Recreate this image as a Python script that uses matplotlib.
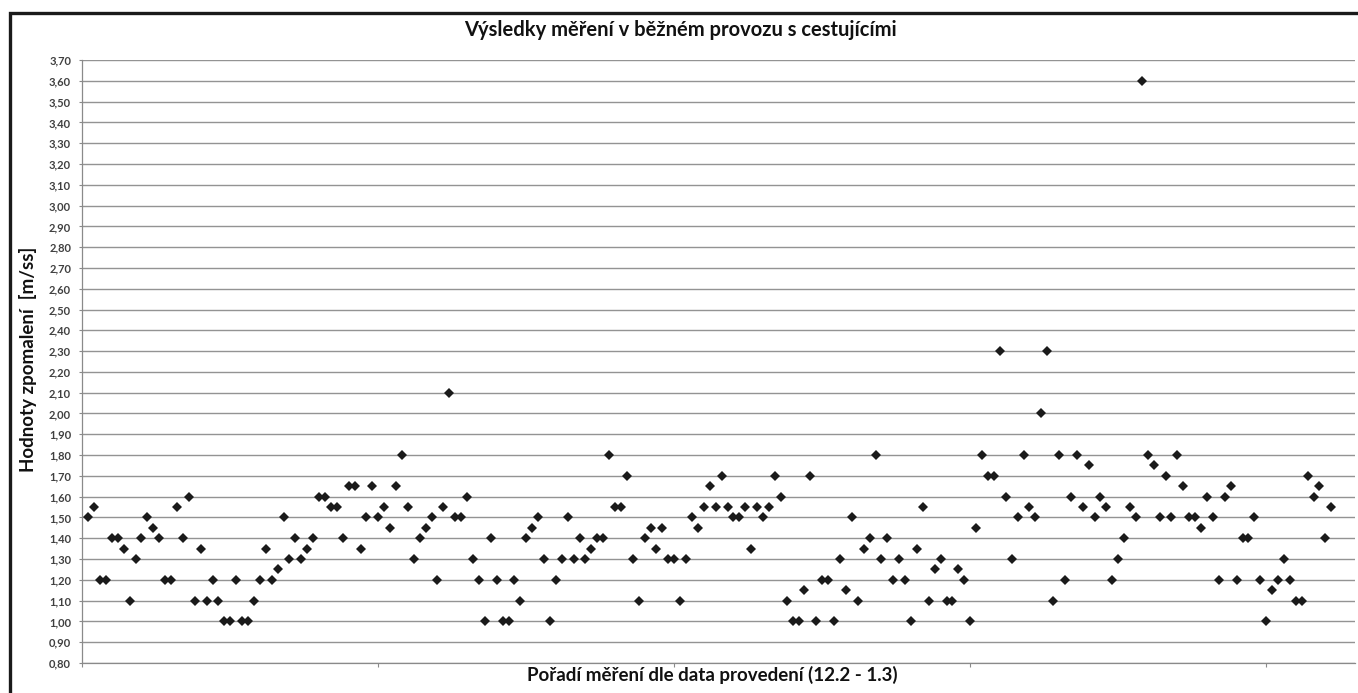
import matplotlib
matplotlib.use("Agg")
import matplotlib.pyplot as plt
from matplotlib.patches import Rectangle
from matplotlib.ticker import FuncFormatter, MultipleLocator

plt.rcParams['font.family'] = ['Lato', 'DejaVu Sans']

title = "Výsledky měření v běžném provozu s cestujícími"
xlabel = "Pořadí měření dle data provedení (12.2 - 1.3)"
ylabel = "Hodnoty zpomalení  [m/ss]"

values = [
    1.50, 1.55, 1.20, 1.20, 1.40, 1.40, 1.35, 1.10, 1.30, 1.40,
    1.50, 1.45, 1.40, 1.20, 1.20, 1.55, 1.40, 1.60, 1.10, 1.35,
    1.10, 1.20, 1.10, 1.00, 1.00, 1.20, 1.00, 1.00, 1.10, 1.20,
    1.35, 1.20, 1.25, 1.50, 1.30, 1.40, 1.30, 1.35, 1.40, 1.60,
    1.60, 1.55, 1.55, 1.40, 1.65, 1.65, 1.35, 1.50, 1.65, 1.50,
    1.55, 1.45,
    1.65, 1.80, 1.55, 1.30, 1.40, 1.45, 1.50, 1.20, 1.55, 2.10,
    1.50, 1.50, 1.60, 1.30, 1.20, 1.00, 1.40, 1.20, 1.00, 1.00,
    1.20, 1.10, 1.40, 1.45, 1.50, 1.30, 1.00, 1.20, 1.30, 1.50,
    1.30, 1.40, 1.30, 1.35, 1.40, 1.40, 1.80, 1.55, 1.55, 1.70,
    1.30, 1.10, 1.40, 1.45, 1.35, 1.45, 1.30, 1.30, 1.10, 1.30,
    1.50, 1.45,
    1.55, 1.65, 1.55, 1.70, 1.55, 1.50, 1.50, 1.55, 1.35, 1.55,
    1.50, 1.55, 1.70, 1.60, 1.10, 1.00, 1.00, 1.15, 1.70, 1.00,
    1.20, 1.20, 1.00, 1.30, 1.15, 1.50, 1.10, 1.35, 1.40, 1.80,
    1.30, 1.40, 1.20, 1.30, 1.20, 1.00, 1.35, 1.55, 1.10, 1.25,
    1.30, 1.10, 1.10, 1.25, 1.20, 1.00, 1.45, 1.80, 1.70, 1.70,
    2.30, 1.60,
    1.30, 1.50, 1.80, 1.55, 1.50, 2.00, 2.30, 1.10, 1.80, 1.20,
    1.60, 1.80, 1.55, 1.75, 1.50, 1.60, 1.55, 1.20, 1.30, 1.40,
    1.55, 1.50, 3.60, 1.80, 1.75, 1.50, 1.70, 1.50, 1.80, 1.65,
    1.50, 1.50, 1.45, 1.60, 1.50, 1.20, 1.60, 1.65, 1.20, 1.40,
    1.40, 1.50, 1.20, 1.00, 1.15, 1.20, 1.30, 1.20, 1.10, 1.10,
    1.70, 1.60, 1.65, 1.40, 1.55,
]
order = list(range(1, len(values) + 1))

W, H = 1358, 693
fig = plt.figure(figsize=(W / 100, H / 100), dpi=100)
fig.patch.set_facecolor('white')

left, right, bottom, top = 82.3, 1355, 663, 60
ax = fig.add_axes([left / W, 1 - bottom / H, (right - left) / W, (bottom - top) / H])

ax.plot(order, values, linestyle='none', marker='D', markersize=4.9,
        color='#1a1a1a', markeredgewidth=0, zorder=3)

ax.set_xlim(0, 215)
ax.set_ylim(0.80, 3.70)
ax.yaxis.set_major_locator(MultipleLocator(0.10))
ax.yaxis.set_major_formatter(FuncFormatter(lambda v, p: f"{v:.2f}".replace('.', ',')))
ax.xaxis.set_major_locator(MultipleLocator(50))
ax.set_xticklabels([])
ax.tick_params(axis='x', length=3, width=0.8, color='#8a8a8a', direction='out')
ax.tick_params(axis='y', length=2, width=0.8, color='#8a8a8a', direction='out',
               labelsize=8, labelcolor='#404040', pad=6)
for lab in ax.get_yticklabels():
    lab.set_fontweight('bold')

ax.grid(axis='y', color='#939393', linewidth=1.0, zorder=0)
ax.set_axisbelow(True)
for s in ['top', 'right']:
    ax.spines[s].set_visible(False)
ax.spines['left'].set_color('#8a8a8a')
ax.spines['bottom'].set_color('#8a8a8a')
ax.spines['left'].set_linewidth(0.9)
ax.spines['bottom'].set_linewidth(0.9)

fig.text(680 / W, 1 - 30 / H, title, ha='center', va='center',
         fontsize=14.5, fontweight='bold', color='#111111')
fig.text(712 / W, 1 - 675 / H, xlabel, ha='center', va='center',
         fontsize=13.5, fontweight='bold', color='#111111')
fig.text(28 / W, 1 - 359 / H, ylabel, ha='center', va='center', rotation=90,
         fontsize=13.5, fontweight='bold', color='#111111')

fig.patches.append(Rectangle((10 / W, -0.2), 1.5, 1.2 - 13 / H,
                             transform=fig.transFigure, fill=False,
                             edgecolor='#1a1a1a', linewidth=2.4, figure=fig))

fig.savefig('out.png', dpi=100, facecolor='white')
